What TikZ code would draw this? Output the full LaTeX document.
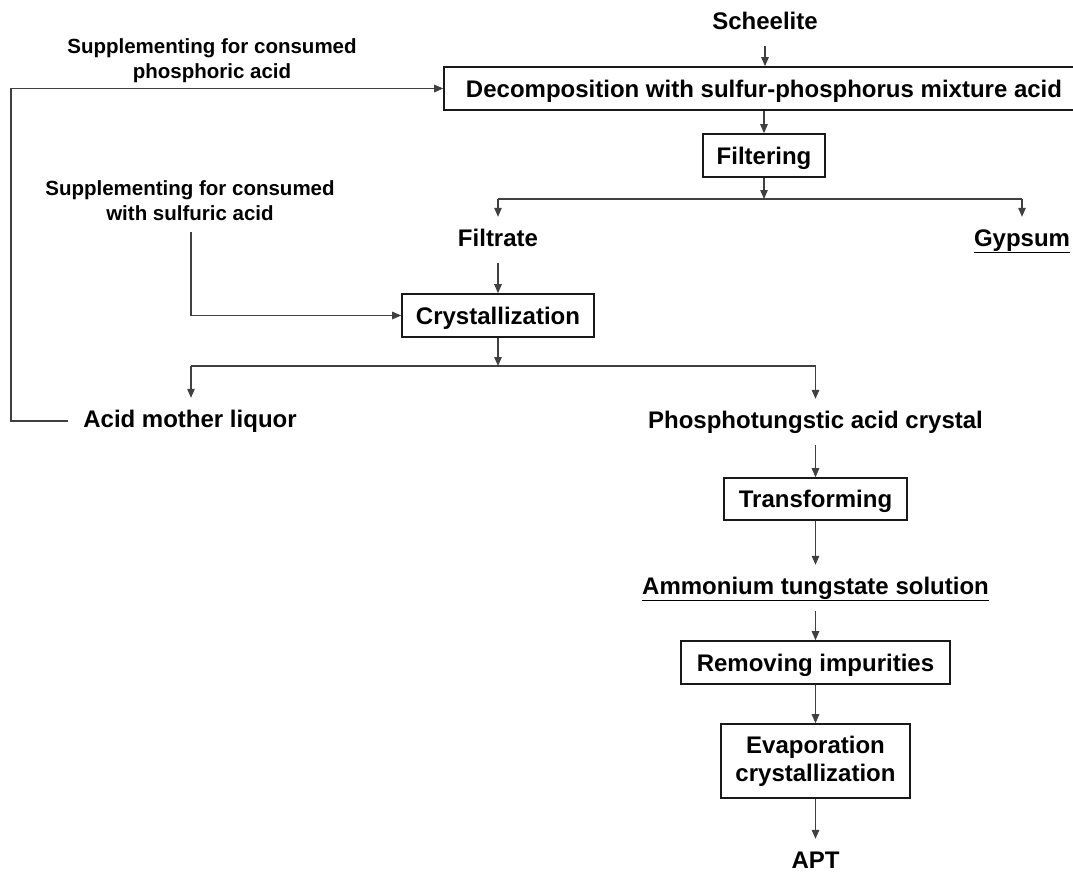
\documentclass[tikz,border=0pt]{standalone}
\usepackage{fontspec}
\setmainfont{Liberation Sans}
\usetikzlibrary{arrows.meta,calc}
\newcommand{\mainf}{\fontsize{24}{28}\selectfont\bfseries}
\newcommand{\smallf}{\fontsize{20.5}{25}\selectfont\bfseries}
\tikzset{
  conn/.style={draw=black!75, line width=1.1pt},
  arr/.style={conn, -{Triangle[length=9pt,width=7.5pt]}},
  procbox/.style={draw=black!90, line width=1.6pt, inner sep=0pt, font=\mainf, align=center},
  onebox/.style={procbox, text height=17.3pt, text depth=0pt},
  lbl/.style={font=\mainf, inner xsep=3pt, inner ysep=12pt, text height=17pt, text depth=5pt},
  note/.style={font=\smallf, align=center, inner sep=0pt}
}
\begin{document}
\begin{tikzpicture}[x=1pt,y=-1pt]
\useasboundingbox[fill=white] (0,0) rectangle (1073,873);

% nodes
\node[lbl] (sch) at (765,23) {Scheelite};
\node[onebox, minimum width=640, minimum height=43] (dec) at (764,88.5) {Decomposition with sulfur-phosphorus mixture acid};
\node[onebox, minimum width=122, minimum height=43] (fil) at (764,155.5) {Filtering};
\node[lbl] (filt) at (498,240) {Filtrate};
\node[lbl] (gyp) at (1022,240) {\underline{Gypsum}};
\node[onebox, minimum width=192, minimum height=43] (crys) at (498,315.5) {Crystallization};
\node[lbl] (aml) at (190,421) {Acid mother liquor};
\node[lbl] (pac) at (815.5,422) {Phosphotungstic acid crystal};
\node[onebox, minimum width=183, minimum height=42] (trans) at (815.5,499) {Transforming};
\node[lbl] (ats) at (815.5,588) {\underline{Ammonium tungstate solution}};
\node[onebox, minimum width=269, minimum height=43] (rem) at (815.5,662.5) {Removing impurities};
\node[procbox, minimum width=189, minimum height=74] (evap) at (815.5,761) {Evaporation\\[0pt]crystallization};
\node[lbl] (apt) at (815.5,862) {APT};

\node[note] (supP) at (212,61) {Supplementing for consumed\\phosphoric acid};
\node[note] (supS) at (190,200.5) {Supplementing for consumed\\with sulfuric acid};

% coordinates
\coordinate (s1) at (764,199);
\coordinate (s1l) at (498,199);
\coordinate (s1r) at (1022,199);
\coordinate (s2) at (498,366);
\coordinate (s2l) at (191,366);
\coordinate (s2r) at (815.5,366);
\coordinate (sfree) at (191,232);
\coordinate (sbend) at (191,315.5);
\coordinate (lp1) at (11,421);
\coordinate (lp2) at (11,88.5);

% connectors
\draw[arr] (sch.south) -- (sch.south |- dec.north);
\draw[arr] (fil.north |- dec.south) -- (fil.north);
\draw[arr] (fil.south) -- (s1);
\draw[conn] (s1l) -- (s1r);
\draw[arr] (s1l) -- (filt.north);
\draw[arr] (s1r) -- (gyp.north);
\draw[arr] (filt.south) -- (crys.north);
\draw[arr] (sfree) -- (sbend) -- (crys.west);
\draw[arr] (crys.south) -- (s2);
\draw[conn] (s2l) -- (s2r);
\draw[arr] (s2l) -- (s2l |- aml.north);
\draw[arr] (s2r) -- (pac.north);
\draw[arr] ([xshift=-12pt]aml.west) -- (lp1) -- (lp2) -- (dec.west);
\draw[arr] (pac.south) -- (trans.north);
\draw[arr] (trans.south) -- (ats.north);
\draw[arr] (ats.south) -- (rem.north);
\draw[arr] (rem.south) -- (evap.north);
\draw[arr] (evap.south) -- (apt.north);
\end{tikzpicture}
\end{document}
